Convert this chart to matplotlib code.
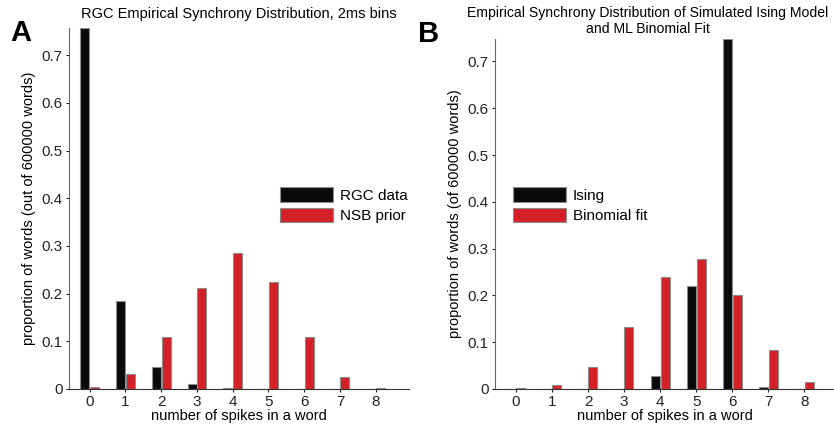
import numpy as np
import matplotlib.pyplot as plt

plt.rcParams['font.family'] = ['Liberation Sans', 'DejaVu Sans']

spikes = np.arange(9)

# panel A: RGC data vs NSB prior
rgc_data = [0.757, 0.184, 0.046, 0.011, 0.002, 0.001, 0.0008, 0.0006, 0.0003]
nsb_prior = [0.0035, 0.032, 0.109, 0.212, 0.285, 0.224, 0.110, 0.025, 0.003]

# panel B: simulated Ising vs binomial fit
ising = [0.0003, 0.0003, 0.0003, 0.0003, 0.028, 0.221, 0.748, 0.005, 0.0003]
binomial_fit = [0.0015, 0.009, 0.046, 0.1325, 0.240, 0.277, 0.200, 0.0825, 0.015]

yticks = [0, 0.1, 0.2, 0.3, 0.4, 0.5, 0.6, 0.7]
ytick_labels = ['0', '0.1', '0.2', '0.3', '0.4', '0.5', '0.6', '0.7']

BLACK = '#0a0a0a'
RED = '#d42027'
EDGE = '#8c8c8c'
W, OFF = 0.25, 0.135

fig = plt.figure(figsize=(8.34, 4.25), dpi=100)
axA = fig.add_axes([69 / 834, 1 - 389 / 425, 340 / 834, 361 / 425])
axB = fig.add_axes([495 / 834, 1 - 389 / 425, 339 / 834, 350 / 425])


def draw(ax, black, red, labels, ymax, xmax, ylabel, leg_x, title, title_x,
         title_size, title_pad):
    hb = ax.bar(spikes - OFF, black, W, color=BLACK, edgecolor=EDGE, linewidth=0.8)
    hr = ax.bar(spikes + OFF, red, W, color=RED, edgecolor=EDGE, linewidth=0.8)
    ax.set_xlim(-0.58, xmax)
    ax.set_ylim(0, ymax)
    ax.set_xticks(spikes)
    ax.set_yticks(yticks)
    ax.set_yticklabels(ytick_labels)
    for s in ['top', 'right']:
        ax.spines[s].set_visible(False)
    ax.spines['left'].set_color('#666666')
    ax.spines['bottom'].set_color('#333333')
    ax.tick_params(direction='out', length=2.5, width=0.8, labelsize=11,
                   colors='#222222', pad=2)
    ax.set_xlabel('number of spikes in a word', fontsize=10.5, labelpad=0)
    ax.set_ylabel(ylabel, fontsize=10.5, labelpad=4)
    ax.set_title(title, fontsize=title_size, x=title_x, pad=title_pad,
                 linespacing=1.2)
    ax.legend([hb, hr], labels, loc='upper left',
              bbox_to_anchor=(leg_x / 834, 1 - 187 / 425),
              bbox_transform=fig.transFigure, frameon=False, fontsize=11,
              borderpad=0, borderaxespad=0, handlelength=3.5, handleheight=1.1,
              handletextpad=0.4, labelspacing=0.33)


draw(axA, rgc_data, nsb_prior, ['RGC data', 'NSB prior'], 0.757, 8.93,
     'proportion of words (out of 600000 words)', 280,
     'RGC Empirical Synchrony Distribution, 2ms bins', 0.5, 10.5, 7)
draw(axB, ising, binomial_fit, ['Ising', 'Binomial fit'], 0.748, 8.82,
     'proportion of words (of 600000 words)', 513,
     'Empirical Synchrony Distribution of Simulated Ising Model\nand ML Binomial Fit',
     0.45, 10.1, 4)

fig.text(10 / 834, 1 - 41 / 425, 'A', fontsize=21, fontweight='bold')
fig.text(418 / 834, 1 - 42 / 425, 'B', fontsize=21, fontweight='bold')

fig.savefig('out.png', dpi=100)
